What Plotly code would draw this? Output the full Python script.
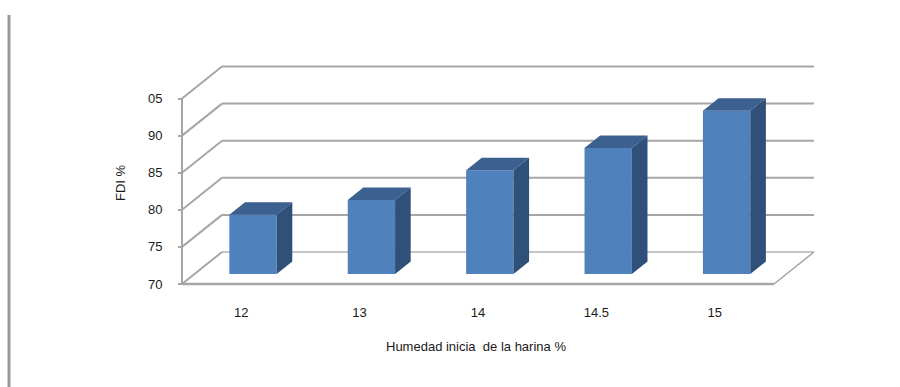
import plotly.graph_objects as go

# Data
categories = ["12", "13", "14", "14.5", "15"]
fdi_values = [78, 80, 84, 87, 92]
y_ticks = [70, 75, 80, 85, 90, 95]
y_tick_labels = ["70", "75", "80", "85", "90", "05"]

# Page and plane scale
W, H = 900, 387
PX_PER_CAT = 118.4
PX_PER_UNIT = 7.42
ORIGIN_X, ORIGIN_Y = 182, 284
DEPTH_X, DEPTH_Y = 40, 32  # oblique offset of the back wall, in pixels

# Bar placement in the oblique box
BAR_WIDTH = 0.40
BAR_NEAR = 0.31
BAR_FAR = 0.70
BAR_SHIFT = -0.005

FACE = "#4f81bd"
TOP = "#3c6190"
SIDE = "#2f5079"
GRID = "#a6a6a6"
TEXT = "#1a1a1a"
FONT = "Liberation Sans"
FONT_SIZE = 13

CAT0 = -0.5
Y0 = y_ticks[0]
x_range = [CAT0 - ORIGIN_X / PX_PER_CAT, CAT0 + (W - ORIGIN_X) / PX_PER_CAT]
y_range = [Y0 - (H - ORIGIN_Y) / PX_PER_UNIT, Y0 + ORIGIN_Y / PX_PER_UNIT]


def project(cat, val, depth):
    """Oblique projection from (category, value, depth 0..1) to axis coordinates."""
    return cat + depth * DEPTH_X / PX_PER_CAT, val + depth * DEPTH_Y / PX_PER_UNIT


positions = list(range(len(categories)))
cat_end = positions[-1] + 0.5
fig = go.Figure()


def segment(a, b, width=2, color=GRID):
    return dict(type="line", xref="x", yref="y", layer="below",
                x0=a[0], y0=a[1], x1=b[0], y1=b[1],
                line=dict(color=color, width=width))


shapes = []
# Wall lines: diagonal on the left wall, horizontal on the back wall
for i, v in enumerate(y_ticks):
    back_left = project(CAT0, v, 1)
    back_right = project(cat_end, v, 1)
    shapes.append(segment(project(CAT0, v, 0), back_left, 2))
    shapes.append(segment(back_left, back_right, 1.2 if i == 0 else 2,
                          "#8c8c8c" if i == 0 else GRID))
# Floor edges and value axis
shapes.append(segment(project(cat_end, Y0, 0), project(cat_end, Y0, 1), 1.5))
shapes.append(segment(project(CAT0, Y0, 0), project(cat_end, Y0, 0), 2.5))
shapes.append(segment(project(CAT0, Y0, 0), project(CAT0, y_ticks[-1], 0), 2))
# Page rule on the left
shapes.append(dict(type="line", xref="paper", yref="paper", x0=9 / W, x1=9 / W,
                   y0=0, y1=1 - 15 / H, line=dict(color="#999999", width=3)))

# Front faces
front_x = []
front_h = []
front_base = []
for p, v in zip(positions, fdi_values):
    bx, by = project(p + BAR_SHIFT, Y0, BAR_NEAR)
    front_x.append(bx)
    front_base.append(by)
    front_h.append(v - Y0)
fig.add_trace(go.Bar(x=front_x, y=front_h, base=front_base, width=BAR_WIDTH,
                     marker=dict(color=FACE, line=dict(width=0)),
                     hoverinfo="skip", showlegend=False))

# Top and side faces
for p, v in zip(positions, fdi_values):
    left = p + BAR_SHIFT - BAR_WIDTH / 2
    right = p + BAR_SHIFT + BAR_WIDTH / 2
    top_pts = [project(left, v, BAR_NEAR), project(right, v, BAR_NEAR),
               project(right, v, BAR_FAR), project(left, v, BAR_FAR)]
    side_pts = [project(right, Y0, BAR_NEAR), project(right, v, BAR_NEAR),
                project(right, v, BAR_FAR), project(right, Y0, BAR_FAR)]
    for pts, col in ((top_pts, TOP), (side_pts, SIDE)):
        xs, ys = zip(*(pts + pts[:1]))
        fig.add_trace(go.Scatter(x=xs, y=ys, mode="lines", fill="toself",
                                 fillcolor=col, line=dict(width=0, color=col),
                                 hoverinfo="skip", showlegend=False))

annotations = [
    dict(text="Humedad inicia  de la harina %", xref="paper", yref="paper",
         x=476 / W, y=1 - 346 / H, xanchor="center", yanchor="middle",
         showarrow=False, font=dict(family=FONT, size=FONT_SIZE, color=TEXT)),
    dict(text="FDI %", xref="paper", yref="paper", x=121 / W, y=1 - 183 / H,
         xanchor="center", yanchor="middle", textangle=-90, showarrow=False,
         font=dict(family=FONT, size=FONT_SIZE, color=TEXT)),
]

fig.update_layout(
    width=W, height=H, margin=dict(l=0, r=0, t=0, b=0),
    paper_bgcolor="white", plot_bgcolor="white", barmode="overlay",
    showlegend=False, shapes=shapes, annotations=annotations,
    font=dict(family=FONT, size=FONT_SIZE, color=TEXT),
    xaxis=dict(range=x_range, domain=[0, 1], anchor="free",
               position=(H - ORIGIN_Y) / H, tickmode="array",
               tickvals=positions, ticktext=categories, ticks="",
               showgrid=False, zeroline=False, showline=False,
               ticklabelstandoff=19, automargin=False,
               tickfont=dict(family=FONT, size=FONT_SIZE, color=TEXT)),
    yaxis=dict(range=y_range, domain=[0, 1], anchor="free",
               position=ORIGIN_X / W, tickmode="array",
               tickvals=y_ticks, ticktext=y_tick_labels, ticks="outside",
               ticklen=4, tickwidth=2, tickcolor=GRID,
               showgrid=False, zeroline=False, showline=False,
               ticklabelstandoff=13, automargin=False,
               tickfont=dict(family=FONT, size=FONT_SIZE, color=TEXT)),
)

fig.write_html("out.html", config=dict(displayModeBar=False))
